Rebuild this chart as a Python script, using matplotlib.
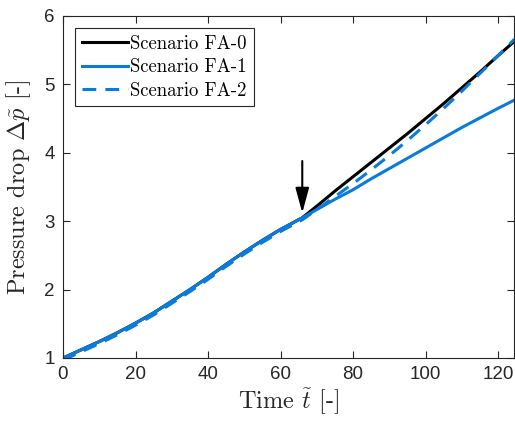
import matplotlib
matplotlib.use("Agg")
import matplotlib.pyplot as plt

plt.rcParams["mathtext.fontset"] = "cm"
plt.rcParams["font.family"] = "Liberation Sans"

# Common part of the pressure-drop curve, before the scenarios split
t_common = [0, 5, 10, 15, 20, 25, 30, 35, 40, 45, 50, 55, 60, 66]
p_common = [1.00, 1.12, 1.24, 1.37, 1.51, 1.66, 1.83, 2.00, 2.18, 2.37, 2.55, 2.72, 2.88, 3.05]

# After the split
t_after = [66, 70, 75, 80, 85, 90, 95, 100, 105, 110, 115, 120, 124.5]
p_fa0 = [3.05, 3.22, 3.44, 3.65, 3.86, 4.07, 4.28, 4.50, 4.72, 4.95, 5.18, 5.42, 5.63]
p_fa1 = [3.05, 3.17, 3.32, 3.46, 3.62, 3.77, 3.92, 4.07, 4.22, 4.37, 4.51, 4.65, 4.77]
p_fa2 = [3.02, 3.17, 3.36, 3.55, 3.75, 3.96, 4.18, 4.41, 4.65, 4.90, 5.16, 5.42, 5.66]
fa2_offset = -0.03  # FA-2 runs a touch lower before the split

t_event = 66
arrow_from, arrow_to = 3.88, 3.12

blue = "#0A7BDC"
black = "#000000"
axis_grey = "#262626"

fig = plt.figure(figsize=(5.15, 4.21), dpi=100)
ax = fig.add_axes([63 / 515, 63 / 421, 451 / 515, 342 / 421])

t0 = t_common + t_after[1:]
ax.plot(t0, p_common + p_fa0[1:], color=black, lw=2.2, label="Scenario FA-0")
ax.plot(t0, p_common + p_fa1[1:], color=blue, lw=2.2, label="Scenario FA-1")
ax.plot(t0, [p + fa2_offset for p in p_common[:-1]] + p_fa2,
        color=blue, lw=2.2, dashes=(4.5, 3), label="Scenario FA-2")

ax.annotate("", xy=(t_event, arrow_to), xytext=(t_event, arrow_from),
            arrowprops=dict(arrowstyle="-|>,head_length=0.85,head_width=0.23",
                            mutation_scale=18, color="black", lw=1.5,
                            shrinkA=0, shrinkB=0))

ax.set_xlim(0, 124.4)
ax.set_ylim(1, 6)
ax.set_xticks([0, 20, 40, 60, 80, 100, 120])
ax.set_yticks([1, 2, 3, 4, 5, 6])

for s in ax.spines.values():
    s.set_color(axis_grey)
    s.set_linewidth(0.8)
ax.tick_params(direction="in", top=True, right=True, length=5, width=0.8,
               color=axis_grey, labelcolor=axis_grey, labelsize=13.5, pad=6)

ax.set_xlabel(r"Time $\tilde{t}$ [-]", fontsize=17.5, family="cmr10",
              color=axis_grey, labelpad=2)
ax.set_ylabel(r"Pressure drop $\Delta\tilde{p}$ [-]", fontsize=17.5, family="cmr10",
              color=axis_grey, labelpad=8)

leg = ax.legend(loc="upper left", prop={"family": "cmr10", "size": 13.5},
                handlelength=2.45, handletextpad=0.15, borderpad=0.35,
                labelspacing=0.3, borderaxespad=0.65, fancybox=False,
                framealpha=1)
leg.get_frame().set_edgecolor(axis_grey)
leg.get_frame().set_linewidth(0.8)

fig.savefig("out.png", dpi=100)
